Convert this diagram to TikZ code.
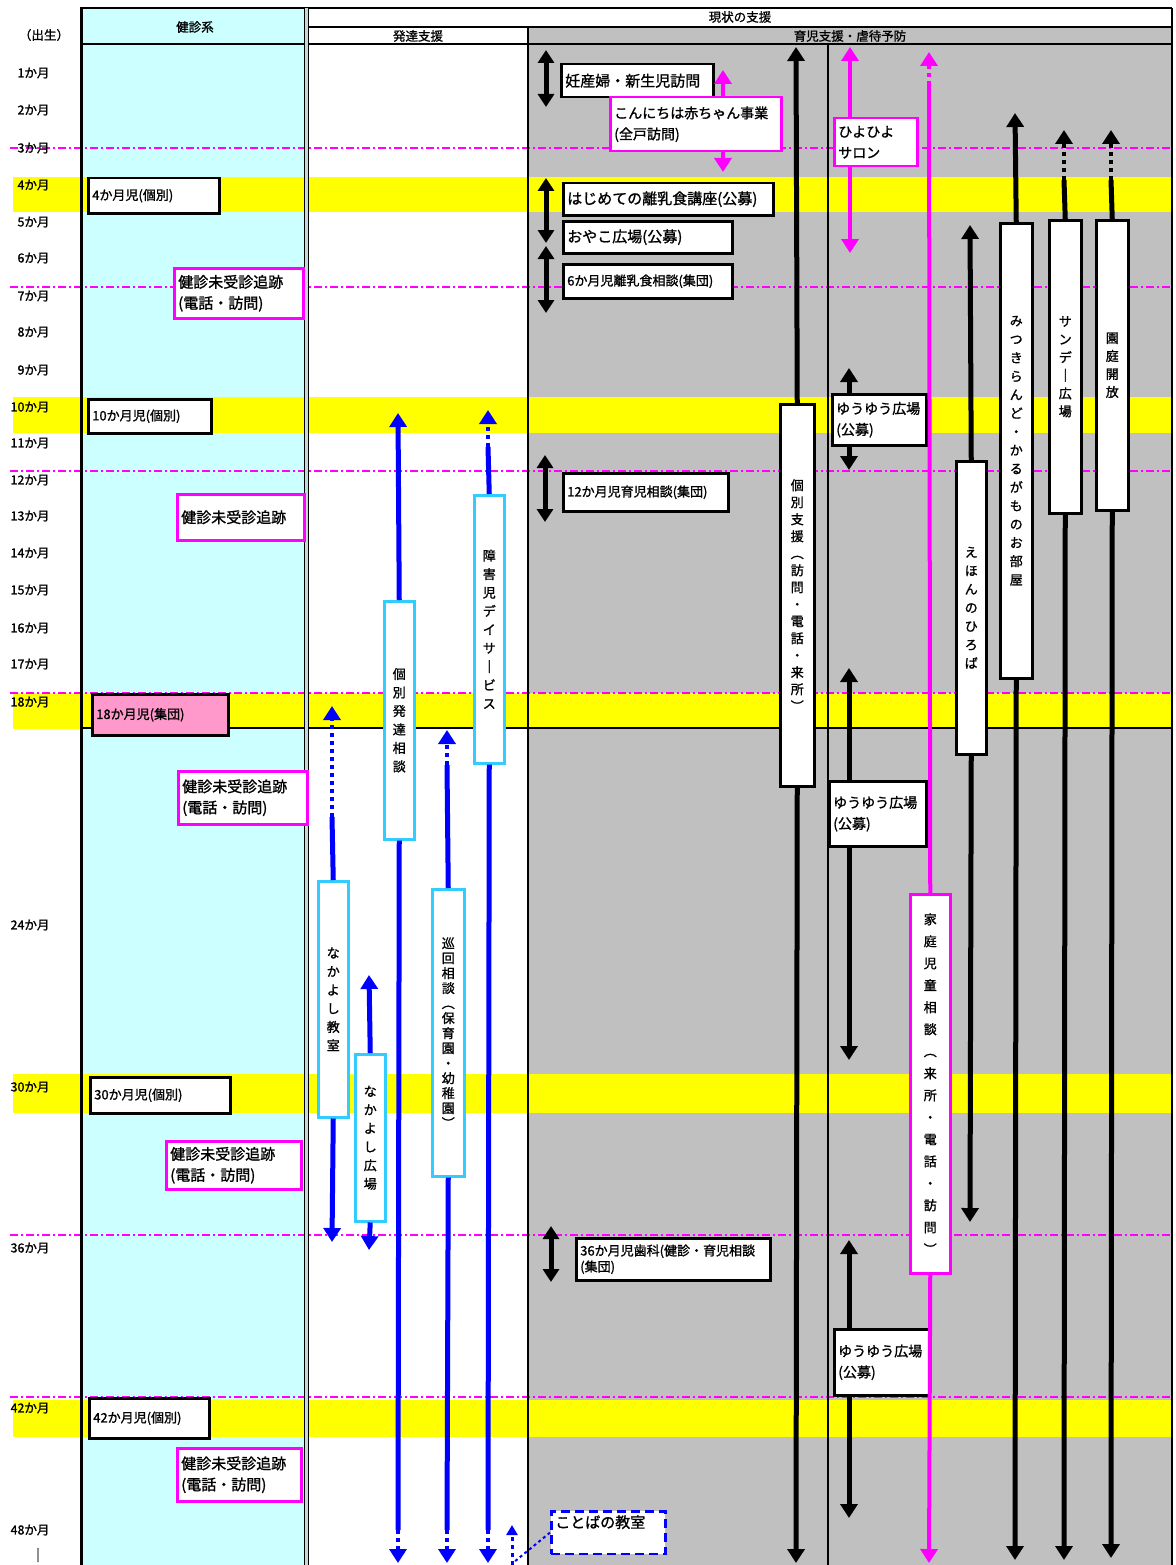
\documentclass[tikz,border=0pt]{standalone}
\usepackage{fontspec}
\setmainfont{Noto Sans CJK JP}[FakeBold=1.2]
\usepackage{tikz}
\usetikzlibrary{arrows.meta, positioning, calc}
\definecolor{KenCyan}{HTML}{CCFFFF}
\definecolor{ShienGray}{HTML}{C0C0C0}
\definecolor{BandYellow}{HTML}{FFFF00}
\definecolor{KenPink}{HTML}{FF99CC}
\definecolor{LineMagenta}{HTML}{FF00FF}
\definecolor{LineBlue}{HTML}{0000FF}
\definecolor{BoxCyan}{HTML}{33CCFF}

\begin{document}
\begin{tikzpicture}[x=1pt, y=-1pt,
  kbox/.style={draw=black, line width=2.5pt, fill=white, anchor=north west,
    inner xsep=4pt, inner ysep=0pt, align=left, font=\fontsize{15}{21}\selectfont},
  skbox/.style={kbox, font=\fontsize{13}{16}\selectfont},
  pkbox/.style={kbox, draw=LineMagenta},
  tate/.style={draw=black, line width=2.5pt, fill=white, anchor=north west,
    inner sep=0pt, align=center, font=\fontsize{13}{#1}\selectfont},
  tate/.default=18.5,
  ctate/.style={tate=#1, draw=BoxCyan},
  ctate/.default=18.5,
  mtate/.style={tate=#1, draw=LineMagenta},
  mtate/.default=22,
  bk/.style={draw=black, line width=5pt},
  bl/.style={draw=LineBlue, line width=5pt},
  mg/.style={draw=LineMagenta, line width=4pt},
  onehead/.style={-{Triangle[length=14pt, width=17pt]}},
  twoheads/.style={{Triangle[length=13pt, width=16pt]}-{Triangle[length=13pt, width=16pt]}},
  dotseg/.style={line width=4pt, dash pattern=on 4pt off 4pt},
  mlabel/.style={anchor=east, font=\fontsize{12.5}{14}\selectfont},
  hdr/.style={font=\fontsize{12.5}{14}\selectfont}
]
\useasboundingbox (0,0) rectangle (1175,1565);
\fill[white] (0,0) rectangle (1175,1565);
% --- column fills ---
\fill[KenCyan] (82,8) rectangle (304,1565);
\fill[ShienGray] (528,27) rectangle (1172,1565);
% --- check-up bands ---
\foreach \ya/\yb in {177/212, 397/433, 693/729, 1074/1113, 1400/1437}
  \fill[BandYellow] (13,\ya) rectangle (1172,\yb);
\foreach \y in {148, 287, 471, 693, 1235, 1397}
  \draw[LineMagenta, line width=1.5pt, dash pattern=on 8pt off 3pt on 2pt off 3pt] (10,\y) -- (1172,\y);
% --- table rules ---
\draw[line width=1.5pt] (80,8) -- (1172,8);
\draw[line width=1.2pt] (309,27) -- (1172,27);
\draw[line width=1.5pt] (80,44) -- (1172,44);
\draw[line width=1.2pt] (80,728) -- (1172,728);
\draw[line width=3pt] (81,8) -- (81,1565);
\fill[ShienGray!60!KenCyan] (304.5,8) rectangle (308.5,1565);
\draw[line width=1.2pt] (304.5,8) -- (304.5,1565);
\draw[line width=1.2pt] (308.5,8) -- (308.5,1565);
\draw[line width=2.5pt] (528,27) -- (528,1565);
\draw[line width=1.2pt] (828,44) -- (828,1565);
\draw[line width=2pt] (1172,8) -- (1172,1565);
% --- headings ---
\node[hdr] (hken) at (195,27) {健診系};
\node[hdr] (hgen) at (740,17) {現状の支援};
\node[hdr] (hhat) at (418,36) {発達支援};
\node[hdr] (hiku) at (850,36) {育児支援・虐待予防};
\node[hdr] (birth) at (44,35) {（出生）};
% --- months ---
\foreach \m/\y in {1/73, 2/110, 3/148, 4/185, 5/222, 6/258, 7/296, 8/332, 9/370,
  10/407, 11/443, 12/480, 13/516, 14/553, 15/590, 16/628, 17/664, 18/702,
  24/925, 30/1087, 36/1248, 42/1408, 48/1530}
  \node[mlabel] (mon\m) at (53,\y) {\m か月};
\node[hdr] (monend) at (38,1555) {|};

% --- Column 1: check-ups ---
\node[skbox, text width=123pt, minimum height=35pt] (k4) at (87,177) {4か月児(個別)};
\node[skbox, text width=115pt, minimum height=34pt] (k10) at (87,398) {10か月児(個別)};
\node[skbox, fill=KenPink, text width=128pt, minimum height=41pt] (k18) at (91,693) {18か月児(集団)};
\node[skbox, text width=132pt, minimum height=36pt] (k30) at (89,1076) {30か月児(個別)};
\node[skbox, text width=112pt, minimum height=40pt] (k42) at (88,1397) {42か月児(個別)};
\node[pkbox, text width=121pt, minimum height=50pt] (m1) at (173,267) {健診未受診追跡\\(電話・訪問)};
\node[pkbox, text width=119pt, minimum height=46pt] (m2) at (176,493) {健診未受診追跡};
\node[pkbox, text width=121pt, minimum height=53pt] (m3) at (177,770) {健診未受診追跡\\(電話・訪問)};
\node[pkbox, text width=127pt, minimum height=48pt] (m4) at (165,1140) {健診未受診追跡\\(電話・訪問)};
\node[pkbox, text width=116pt, minimum height=53pt] (m5) at (176,1447) {健診未受診追跡\\(電話・訪問)};

% --- Column 2: development support ---
\node[ctate, minimum width=30pt, minimum height=238pt] (hb) at (383,600) {個\\別\\発\\達\\相\\談};
\node[ctate, minimum width=30pt, minimum height=268pt] (sd) at (473,494) {障\\害\\児\\デ\\イ\\サ\\｜\\ビ\\ス};
\node[ctate=15, minimum width=32pt, minimum height=287pt] (jk) at (431,888) {巡\\回\\相\\談\\︵\\保\\育\\園\\・\\幼\\稚\\園\\︶};
\node[ctate, minimum width=30pt, minimum height=236pt] (nk) at (317,880) {な\\か\\よ\\し\\教\\室};
\node[ctate, minimum width=30pt, minimum height=167pt] (nh) at (354,1053) {な\\か\\よ\\し\\広\\場};
\node[kbox, draw=LineBlue, dash pattern=on 9pt off 5pt, text width=106pt, text depth=22pt, inner ysep=4pt] (kt) at (550,1510) {ことばの教室};

\coordinate (hbup) at (398,413);
\coordinate (hbmid) at (398,1530);
\coordinate (hbdn) at (398,1563);
\draw[bl, onehead] (hb.north) -- (hbup);
\draw[bl] (hb.south) -- (hbmid);
\draw[bl, dotseg, onehead] (hbmid) -- (hbdn);

\coordinate (sdup) at (488,410);
\coordinate (sddot) at (488,447);
\coordinate (sdmid) at (488,1530);
\coordinate (sddn) at (488,1563);
\draw[bl] (sd.north) -- (sddot);
\draw[bl, dotseg, onehead] (sddot) -- (sdup);
\draw[bl] (sd.south) -- (sdmid);
\draw[bl, dotseg, onehead] (sdmid) -- (sddn);

\coordinate (jkup) at (447,730);
\coordinate (jkdot) at (447,765);
\coordinate (jkmid) at (447,1530);
\coordinate (jkdn) at (447,1563);
\draw[bl] (jk.north) -- (jkdot);
\draw[bl, dotseg, onehead] (jkdot) -- (jkup);
\draw[bl] (jk.south) -- (jkmid);
\draw[bl, dotseg, onehead] (jkmid) -- (jkdn);

\coordinate (nkup) at (332,706);
\coordinate (nkdot) at (332,817);
\coordinate (nkdn) at (332,1242);
\draw[bl] (nk.north) -- (nkdot);
\draw[bl, dotseg, onehead] (nkdot) -- (nkup);
\draw[bl, onehead] (nk.south) -- (nkdn);

\coordinate (nhup) at (369,975);
\coordinate (nhdn) at (369,1250);
\draw[bl, onehead] (nh.north) -- (nhup);
\draw[bl, onehead] (nh.south) -- (nhdn);

\coordinate (ktup) at (512,1525);
\coordinate (ktfoot) at (512,1565);
\coordinate (ktlink) at (514,1562);
\draw[bl, dotseg, line width=3pt, -{Triangle[length=10pt, width=11pt]}] (ktfoot) -- (ktup);
\draw[LineBlue, line width=2pt, dash pattern=on 3pt off 3pt] (kt.west) -- (ktlink);

% --- Column 3: parenting support ---
\node[kbox, text width=144pt, minimum height=33pt] (nb) at (560,63) {妊産婦・新生児訪問};
\node[pkbox, font=\fontsize{14}{21}\selectfont, text width=163pt, minimum height=54pt] (ak) at (609,96) {こんにちは赤ちゃん事業\\(全戸訪問)};
\node[kbox, text width=202pt, minimum height=32pt] (hr) at (562,182) {はじめての離乳食講座(公募)};
\node[kbox, text width=161pt, minimum height=32pt] (oh) at (562,220) {おやこ広場(公募)};
\node[skbox, text width=161pt, minimum height=34pt] (r6) at (562,263) {6か月児離乳食相談(集団)};
\node[skbox, text width=157pt, minimum height=38pt] (r12) at (562,472) {12か月児育児相談(集団)};
\node[skbox, text width=186pt, minimum height=42pt] (r36) at (575,1237) {36か月児歯科(健診・育児相談\\(集団)};
\node[pkbox, font=\fontsize{14}{21}\selectfont, text width=75pt, minimum height=48pt] (hy) at (833,117) {ひよひよ\\サロン};
\node[kbox, font=\fontsize{14}{21}\selectfont, text width=86pt, minimum height=51pt] (y1) at (831,393) {ゆうゆう広場\\(公募)};
\node[kbox, font=\fontsize{14}{21}\selectfont, text width=89pt, minimum height=65pt] (y2) at (828,780) {ゆうゆう広場\\(公募)};
\node[kbox, font=\fontsize{14}{21}\selectfont, text width=87pt, minimum height=66pt] (y3) at (833,1328) {ゆうゆう広場\\(公募)};
\node[tate=17, minimum width=34pt, minimum height=382pt] (ks) at (779,403) {個\\別\\支\\援\\︵\\訪\\問\\・\\電\\話\\・\\来\\所\\︶};
\node[mtate, minimum width=40pt, minimum height=379pt] (kd) at (909,893) {家\\庭\\児\\童\\相\\談\\︵\\来\\所\\・\\電\\話\\・\\訪\\問\\︶};
\node[tate, minimum width=30pt, minimum height=293pt] (eh) at (955,460) {え\\ほ\\ん\\の\\ひ\\ろ\\ば};
\node[tate, minimum width=32pt, minimum height=455pt] (mk) at (999,222) {み\\つ\\き\\ら\\ん\\ど\\・\\か\\る\\が\\も\\の\\お\\部\\屋};
\node[tate=18, minimum width=32pt, minimum height=293pt] (sh) at (1048,219) {サ\\ン\\デ\\｜\\広\\場};
\node[tate=18, minimum width=32pt, minimum height=290pt] (ek) at (1095,219) {園\\庭\\開\\放};

% short spans
\coordinate (nbup) at (546,50);  \coordinate (nbdn) at (546,107);
\coordinate (hrup) at (546,178); \coordinate (hrdn) at (546,243);
\coordinate (r6up) at (546,246); \coordinate (r6dn) at (546,313);
\coordinate (r12up) at (545,455); \coordinate (r12dn) at (545,522);
\coordinate (r36up) at (551,1226); \coordinate (r36dn) at (551,1282);
\draw[bk, twoheads] (nbup) -- (nbdn);
\draw[bk, twoheads] (hrup) -- (hrdn);
\draw[bk, twoheads] (r6up) -- (r6dn);
\draw[bk, twoheads] (r12up) -- (r12dn);
\draw[bk, twoheads] (r36up) -- (r36dn);

\coordinate (akup) at (723,70); \coordinate (akdn) at (723,172);
\draw[mg, onehead] (akup |- ak.north) -- (akup);
\draw[mg, onehead] (akup |- ak.south) -- (akdn);

\coordinate (hyup) at (850,47); \coordinate (hydn) at (850,253);
\draw[mg, onehead] (hyup |- hy.north) -- (hyup);
\draw[mg, onehead] (hyup |- hy.south) -- (hydn);

\coordinate (y1up) at (849,368); \coordinate (y1dn) at (849,470);
\coordinate (y2up) at (849,668); \coordinate (y2dn) at (849,1060);
\coordinate (y3up) at (849,1240); \coordinate (y3dn) at (849,1518);
\foreach \b in {y1, y2, y3} {
  \draw[bk, onehead] (\b up |- \b.north) -- (\b up);
  \draw[bk, onehead] (\b up |- \b.south) -- (\b dn);
}

% long lines
\coordinate (ksup) at (796,47);   \coordinate (ksdn) at (796,1563);
\draw[bk, onehead] (ks.north) -- (ksup);
\draw[bk, onehead] (ks.south) -- (ksdn);

\coordinate (kdup) at (929,52);   \coordinate (kddot) at (929,85);
\coordinate (kddn) at (929,1563);
\draw[mg] (kd.north) -- (kddot);
\draw[mg, dotseg, onehead] (kddot) -- (kdup);
\draw[mg, onehead] (kd.south) -- (kddn);

\coordinate (ehup) at (970,225);  \coordinate (ehdn) at (970,1222);
\draw[bk, onehead] (eh.north) -- (ehup);
\draw[bk, onehead] (eh.south) -- (ehdn);

\coordinate (mkup) at (1015,113); \coordinate (mkdn) at (1015,1560);
\draw[bk, onehead] (mk.north) -- (mkup);
\draw[bk, onehead] (mk.south) -- (mkdn);

\coordinate (shup) at (1064,130); \coordinate (shdot) at (1064,180);
\coordinate (shdn) at (1064,1560);
\draw[bk] (sh.north) -- (shdot);
\draw[bk, dotseg, onehead] (shdot) -- (shup);
\draw[bk, onehead] (sh.south) -- (shdn);

\coordinate (ekup) at (1111,130); \coordinate (ekdot) at (1111,180);
\coordinate (ekdn) at (1111,1558);
\draw[bk] (ek.north) -- (ekdot);
\draw[bk, dotseg, onehead] (ekdot) -- (ekup);
\draw[bk, onehead] (ek.south) -- (ekdn);
\end{tikzpicture}
\end{document}
